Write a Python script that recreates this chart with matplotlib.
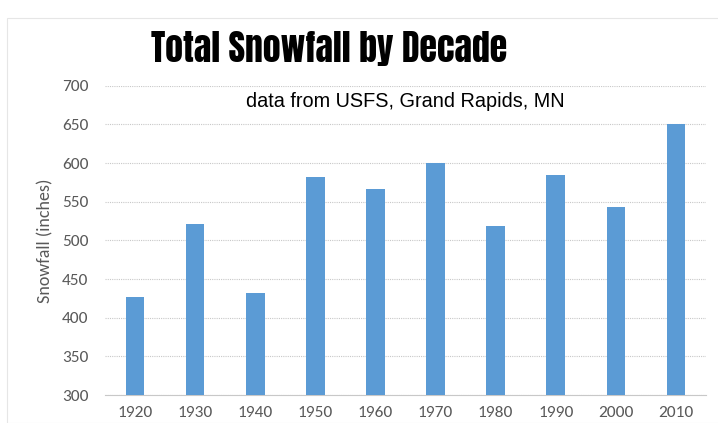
import matplotlib.pyplot as plt
from matplotlib.patches import Rectangle

decades = ['1920', '1930', '1940', '1950', '1960', '1970', '1980', '1990', '2000', '2010']
snowfall = [427, 521, 432, 582, 566, 600, 518, 585, 543, 651]
y_ticks = [300, 350, 400, 450, 500, 550, 600, 650, 700]

body_font = ['Carlito', 'Lato', 'DejaVu Sans']
title_font = ['Anton', 'Oswald', 'Open Sans Condensed', 'DejaVu Sans']

fig = plt.figure(figsize=(7.18, 4.23), dpi=100)
W, H = 718, 423

# excel-like chart border
fig.patches.append(Rectangle((7 / W, 0), 1, 1 - 18 / H, transform=fig.transFigure,
                             fill=False, edgecolor='#e6e6e6', linewidth=0.8))

ax = fig.add_axes([105 / W, 1 - 395 / H, 601 / W, (395 - 85.7) / H])
ax.bar(range(len(decades)), snowfall, width=0.31, color='#5b9bd5', zorder=3)
ax.set_xlim(-0.5, len(decades) - 0.5)
ax.set_ylim(300, 700)
ax.set_yticks(y_ticks)
ax.set_xticks(range(len(decades)))
ax.set_xticklabels(decades)

ax.grid(axis='y', color='#c8c8c8', linestyle=(0, (1, 1)), linewidth=0.8, zorder=0)
for s in ['top', 'right', 'left']:
    ax.spines[s].set_visible(False)
ax.spines['bottom'].set_color('#c8c8c8')
ax.spines['bottom'].set_linestyle((0, (1, 1)))
ax.tick_params(axis='y', length=0, colors='#595959', labelsize=12.5, pad=12)
ax.tick_params(axis='x', length=0, colors='#595959', labelsize=12.5, pad=8)
for lab in ax.get_xticklabels() + ax.get_yticklabels():
    lab.set_family(body_font)

ax.set_ylabel('Snowfall (inches)', fontsize=13, color='#595959', family=body_font, labelpad=6)

# title: size it so it spans the same width as the reference
title = fig.text(151 / W, 1 - 61.7 / H, 'Total Snowfall by Decade', ha='left', va='baseline',
                 fontsize=24, fontweight='bold', family=title_font)
r = fig.canvas.get_renderer()
w = title.get_window_extent(r).width
title.set_fontsize(24 * 357 / w)

ax.text(0.5, 0.95, 'data from USFS, Grand Rapids, MN', transform=ax.transAxes,
        ha='center', va='center', fontsize=14.3, color='black', family='Liberation Sans')

fig.savefig('out.png', dpi=100)
